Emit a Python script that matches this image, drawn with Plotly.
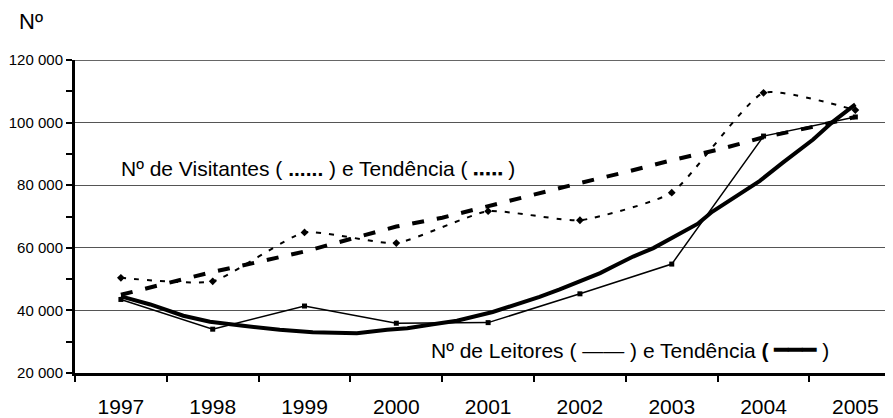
import plotly.graph_objects as go

years = [1997, 1998, 1999, 2000, 2001, 2002, 2003, 2004, 2005]
visitantes = [50400, 49300, 64900, 61500, 71700, 68800, 77600, 109500, 104000]
leitores = [43500, 34000, 41400, 35900, 36100, 45300, 54800, 95700, 101800]

tend_vis_x = [1997.0, 1997.5, 1998.0, 1998.5, 1999.0, 1999.5, 2000.0, 2000.5, 2001.0,
              2001.5, 2002.0, 2002.5, 2003.0, 2003.5, 2004.0, 2004.5, 2005.0]
tend_vis_y = [45000, 48600, 52300, 55500, 58800, 62800, 66800, 69600, 73400,
              77100, 80700, 84200, 88000, 91300, 95300, 98400, 101800]

tend_lei_x = [1997.00, 1997.32, 1997.68, 1997.97, 1998.33, 1998.73, 1999.09, 1999.57,
              1999.90, 2000.12, 2000.40, 2000.66, 2001.05, 2001.31, 2001.56, 2001.78,
              2002.03, 2002.22, 2002.40, 2002.58, 2002.80, 2002.98, 2003.12, 2003.29,
              2003.44, 2003.63, 2003.96, 2004.21, 2004.54, 2004.76, 2005.00]
tend_lei_y = [44500, 41900, 38300, 36400, 35100, 33800, 33000, 32700,
              33800, 34300, 35600, 36700, 39500, 41900, 44300, 46700,
              49800, 51900, 54600, 57200, 59900, 62700, 65200, 67800,
              71500, 75100, 81400, 87200, 94600, 100400, 105800]

y_ticks = [20000, 40000, 60000, 80000, 100000, 120000]
y_text = ["20 000", "40 000", "60 000", "80 000", "100 000", "120 000"]

FONT = "Liberation Sans, Arial, sans-serif"

# figure geometry (page has an 8px body margin)
W, H = 885, 410
ML, MR, MT, MB = 67, 0, 52, 42
PW, PH = W - ML - MR, H - MT - MB


def px(xf):
    return (xf - ML) / PW


def py(yf):
    return (H - MB - yf) / PH


fig = go.Figure()
fig.add_trace(go.Scatter(
    x=years, y=visitantes, mode="lines+markers",
    line=dict(color="black", width=2, dash="5px,8px", shape="spline", smoothing=0.5),
    marker=dict(symbol="diamond", size=6, color="black"),
))
fig.add_trace(go.Scatter(
    x=tend_vis_x, y=tend_vis_y, mode="lines",
    line=dict(color="black", width=4, dash="12px,13px"),
))
fig.add_trace(go.Scatter(
    x=years, y=leitores, mode="lines+markers",
    line=dict(color="black", width=1.5),
    marker=dict(symbol="square", size=5, color="black"),
))
fig.add_trace(go.Scatter(
    x=tend_lei_x, y=tend_lei_y, mode="lines",
    line=dict(color="black", width=4),
))

fig.add_shape(type="line", xref="paper", yref="y", x0=0, x1=1, y0=120000, y1=120000,
              line=dict(color="#333333", width=1.5), layer="below")

fig.update_layout(
    width=W, height=H,
    margin=dict(l=ML, r=MR, t=MT, b=MB),
    paper_bgcolor="white", plot_bgcolor="white",
    showlegend=False,
    font=dict(family=FONT, color="black"),
    xaxis=dict(
        range=[1996.5, 2005.41],
        tickmode="array", tickvals=years, ticktext=[str(y) for y in years],
        ticks="", showgrid=False, zeroline=False,
        showline=True, linecolor="black", linewidth=3,
        tickfont=dict(size=21, family=FONT, color="black"),
        minor=dict(tickmode="linear", tick0=1996.5, dtick=1, ticks="outside",
                   ticklen=6, tickwidth=2, tickcolor="black", showgrid=False),
        ticklabelstandoff=13,
    ),
    yaxis=dict(
        range=[20000, 120000],
        tickmode="array", tickvals=y_ticks, ticktext=y_text,
        ticks="outside", ticklen=6, tickwidth=2, tickcolor="black",
        showgrid=True, gridcolor="#555555", gridwidth=1,
        zeroline=False, showline=True, linecolor="black", linewidth=3,
        tickfont=dict(size=15, family=FONT, color="black"),
        minor=dict(tickmode="linear", tick0=10000, dtick=20000, ticks="outside",
                   ticklen=6, tickwidth=2, tickcolor="black", showgrid=False),
    ),
    annotations=[
        dict(text="Nº", xref="paper", yref="paper", x=px(9), y=py(13),
             xanchor="left", yanchor="middle", showarrow=False,
             font=dict(size=22, family=FONT, color="black")),
        dict(text="Nº de Visitantes ( <b>......</b> ) e Tendência ( "
                  "<span style='font-size:7px'>■ ■ ■ ■ ■</span> )",
             xref="paper", yref="paper", x=px(111), y=py(162),
             xanchor="left", yanchor="middle", showarrow=False,
             font=dict(size=21, family=FONT, color="black")),
        dict(text="Nº de Leitores ( —— ) e Tendência <b>(</b> "
                  "<span style='font-size:24px'>━━━</span> )",
             xref="paper", yref="paper", x=px(421), y=py(344),
             xanchor="left", yanchor="middle", showarrow=False,
             font=dict(size=21, family=FONT, color="black")),
    ],
)

fig.write_html("out.html")
